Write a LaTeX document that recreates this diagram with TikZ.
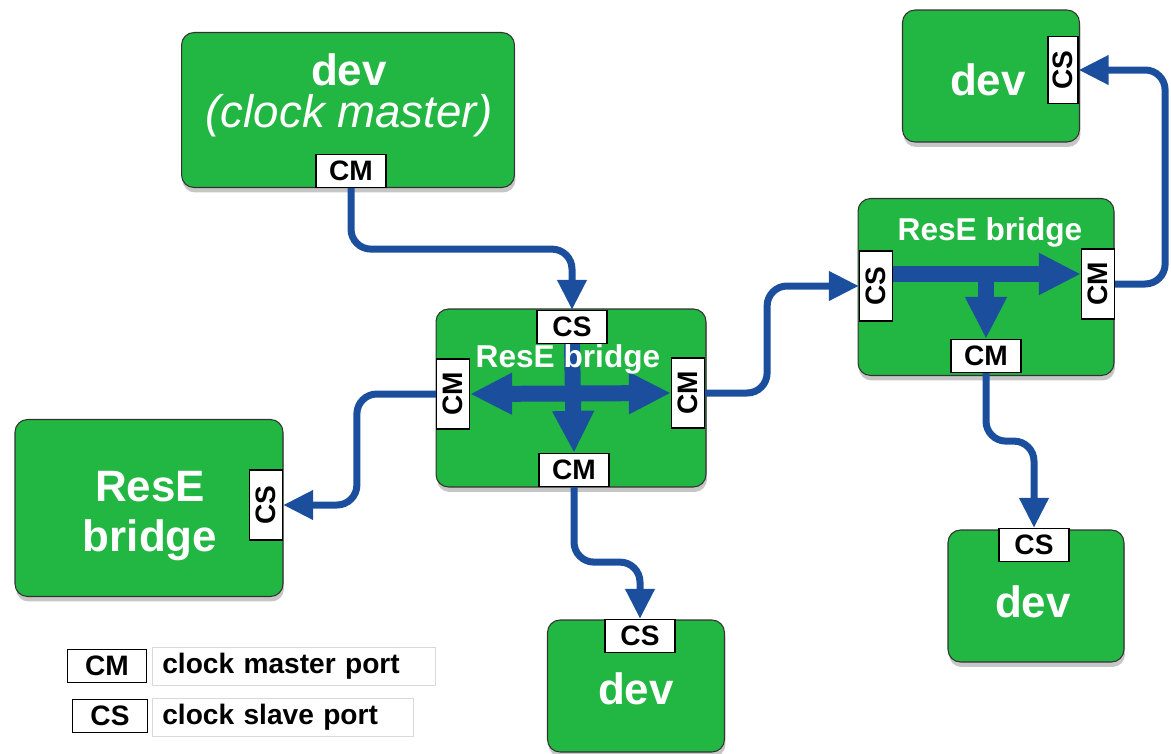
\documentclass[tikz,border=0pt]{standalone}
\usepackage{fontspec}
\setmainfont{Liberation Sans}
\usepackage{tikz}
\usetikzlibrary{arrows.meta,shadows}

\definecolor{boxgreen}{RGB}{34,182,66}
\definecolor{flowblue}{RGB}{27,79,158}

\begin{document}
\begin{tikzpicture}
	[x=0.02cm,y=-0.02cm,
	box/.style={draw=black!80,line width=0.6pt,fill=boxgreen,rounded corners=0.25cm,
		drop shadow={shadow xshift=0.02cm,shadow yshift=-0.1cm,opacity=0.45}},
	port/.style={draw=black,line width=0.7pt,fill=white,minimum width=1.4cm,minimum height=0.66cm,
		inner sep=0pt,font=\fontsize{16}{18}\selectfont\bfseries},
	boxtext/.style={text=white,inner sep=0pt,font=\fontsize{25}{30}\selectfont\bfseries},
	smalltext/.style={text=white,inner sep=0pt,font=\fontsize{18}{21}\selectfont\bfseries},
	keytext/.style={draw=black!15,fill=white,minimum height=0.74cm,inner xsep=0.2cm,
		font=\fontsize{16}{18}\selectfont\bfseries},
	flow/.style={draw=flowblue,line width=0.14cm,rounded corners=0.4cm,
		-{Triangle[length=0.6cm,width=0.56cm]}},
	fanout/.style={draw=flowblue,line width=0.32cm,-{Triangle[length=0.84cm,width=0.78cm]}},
	twoway/.style={draw=flowblue,line width=0.32cm,
		{Triangle[length=0.84cm,width=0.78cm]}-{Triangle[length=0.84cm,width=0.78cm]}}]
	\useasboundingbox (0,0) rectangle (1171,754);

	% devices and bridges
	\node[box,minimum width=6.66cm,minimum height=3.1cm] (master) at (348,110) {};
	\node[box,minimum width=3.54cm,minimum height=2.64cm] (devtr) at (991,76) {};
	\node[box,minimum width=5.12cm,minimum height=3.54cm] (bridger) at (986,287) {};
	\node[box,minimum width=5.4cm,minimum height=3.56cm] (bridgec) at (571,398) {};
	\node[box,minimum width=5.36cm,minimum height=3.54cm] (bridgel) at (149,508) {};
	\node[box,minimum width=3.54cm,minimum height=2.64cm] (devb) at (636,686) {};
	\node[box,minimum width=3.52cm,minimum height=2.64cm] (devbr) at (1036,596) {};

	% ports
	\node[port] (mastercm) at (351,171) {CM};
	\node[port,rotate=90,minimum width=1.34cm,minimum height=0.6cm] (devtrcs) at (1063,70) {CS};
	\node[port,rotate=90] (bridgercs) at (876,286) {CS};
	\node[port,rotate=90] (bridgercmr) at (1098,284) {CM};
	\node[port] (bridgercmb) at (986,356) {CM};
	\node[port] (bridgeccs) at (572,327) {CS};
	\node[port,rotate=90] (bridgeccml) at (453,394) {CM};
	\node[port,rotate=90] (bridgeccmr) at (688,393) {CM};
	\node[port] (bridgeccmb) at (574,470) {CM};
	\node[port,rotate=90] (bridgelcs) at (266,505) {CS};
	\node[port] (devbcs) at (640,636) {CS};
	\node[port] (devbrcs) at (1034,545) {CS};

	% forwarding inside the bridges
	\coordinate (rsplit) at ([yshift=0.24cm]bridgercs.south);
	\draw[twoway] (bridgeccml.south) -- (bridgeccmr.north);
	\draw[fanout] (bridgeccs.south) -- (bridgeccmb.north);
	\draw[fanout] (rsplit) -- (rsplit -| bridgercmr.north);
	\draw[fanout] (rsplit -| bridgercmb.north) -- (bridgercmb.north);

	% labels
	\node[boxtext] (mastername) at (349,70) {dev};
	\node[boxtext,font=\fontsize{26}{30}\selectfont\itshape] (masterrole) at (349,116) {(clock master)};
	\node[boxtext] (devtrname) at (988,80) {dev};
	\node[smalltext] (bridgername) at (990,232) {ResE bridge};
	\node[smalltext] (bridgecname) at (568,359) {ResE bridge};
	\node[boxtext] (bridgelname) at (150,487) {ResE};
	\node[boxtext] (bridgelname2) at (150,540) {bridge};
	\node[boxtext] (devbname) at (636,689) {dev};
	\node[boxtext] (devbrname) at (1033,602) {dev};

	% clock links
	\foreach \from/\len/\to in {mastercm.south/61/bridgeccs.north, bridgeccmb.south/75/devbcs.north,
		bridgercmb.south/68/devbrcs.north}
	\draw[flow] (\from) -- ++(0,\len) -| (\to);
	\foreach \from/\len/\to in {bridgeccmr.south/62/bridgercs.north, bridgercmr.south/50/devtrcs.south,
		bridgeccml.north/-79/bridgelcs.south}
	\draw[flow] (\from) -- ++(\len,0) |- (\to);

	% key
	\node[port,minimum width=1.58cm,line width=1.1pt] (keycm) at (107,666) {CM};
	\node[keytext,text width=5.26cm,anchor=west] (keycmtext) at (152,666) {clock master port};
	\node[port,minimum width=1.5cm,line width=1.1pt] (keycs) at (110,716) {CS};
	\node[keytext,text width=4.82cm,anchor=west] (keycstext) at (152,717) {clock slave port};
\end{tikzpicture}
\end{document}
